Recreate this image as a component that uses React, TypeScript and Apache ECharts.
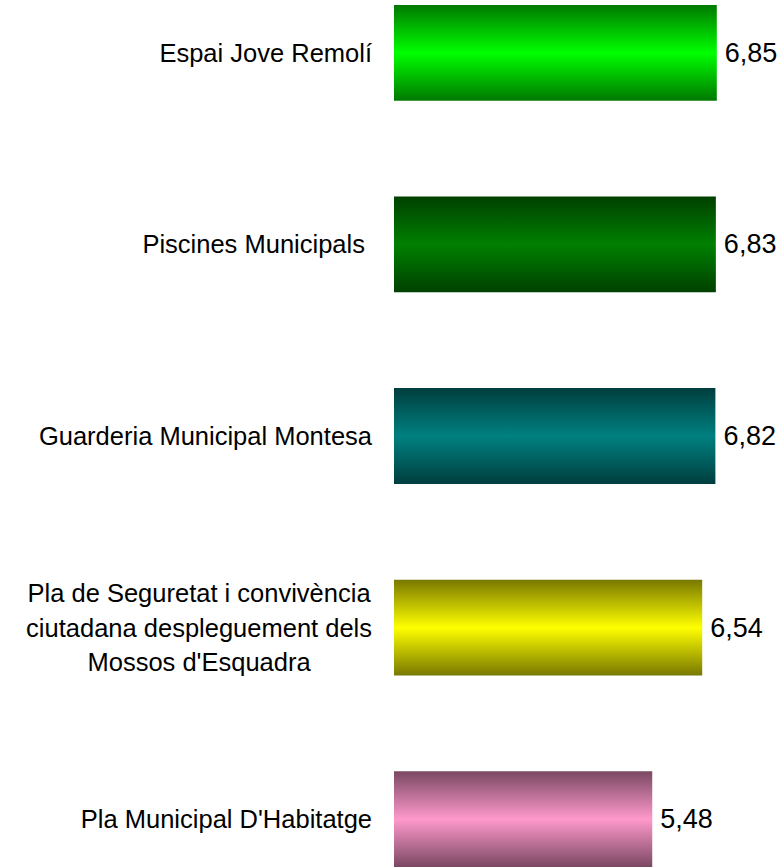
import React, { useEffect, useRef } from "react";
import * as echarts from "echarts";

const categories = [
  "Espai Jove Remolí",
  "Piscines Municipals\u00a0",
  "Guarderia Municipal Montesa",
  "Pla de Seguretat i convivència\nciutadana despleguement dels\nMossos d'Esquadra",
  "Pla Municipal D'Habitatge",
];
const values = [6.85, 6.83, 6.82, 6.54, 5.48];
const darkColors = ["#007800", "#004000", "#003e3e", "#787800", "#7a4862"];
const brightColors = ["#00ff00", "#008000", "#008080", "#ffff00", "#ff99cc"];

const FONT = "Arial, 'Liberation Sans', sans-serif";
const OFFSET = 43;

export default function App() {
  const ref = useRef<HTMLDivElement>(null);
  useEffect(() => {
    document.body.style.margin = "0";
    const chart = echarts.init(ref.current!, null, { renderer: "svg" });
    const data = values.map((v, i) => ({
      value: v,
      itemStyle: {
        color: new echarts.graphic.LinearGradient(0, 0, 0, 1, [
          { offset: 0, color: darkColors[i] },
          { offset: 0.5, color: brightColors[i] },
          { offset: 1, color: darkColors[i] },
        ]),
      },
    }));
    chart.setOption({
      animation: false,
      backgroundColor: "#ffffff",
      grid: { left: 394, width: 377, top: 0, height: 958 },
      xAxis: { type: "value", min: 0, max: 8, show: false },
      yAxis: {
        type: "category",
        inverse: true,
        data: categories,
        axisLine: { show: false },
        axisTick: { show: false },
        splitLine: { show: false },
        axisLabel: {
          interval: 0,
          margin: 22,
          formatter: (v: string) =>
            v
              .split("\n")
              .map((l) => `{c|${l}}`)
              .join("\n"),
          rich: {
            c: {
              align: "center",
              fontSize: 25.5,
              lineHeight: 34.5,
              color: "#000",
              fontFamily: FONT,
            },
          },
        },
      },
      series: [
        {
          type: "bar",
          data,
          barWidth: "50%",
          label: {
            show: true,
            position: "right",
            distance: 8,
            fontSize: 27,
            color: "#000",
            fontFamily: FONT,
            formatter: (p: any) => String(p.value.toFixed(2)).replace(".", ","),
          },
        },
      ],
    });
    return () => chart.dispose();
  }, []);
  return (
    <div style={{ width: 783, height: 867, overflow: "hidden", position: "relative" }}>
      <div
        ref={ref}
        style={{ position: "absolute", left: 0, top: -OFFSET, width: 783, height: 958 }}
      />
    </div>
  );
}
